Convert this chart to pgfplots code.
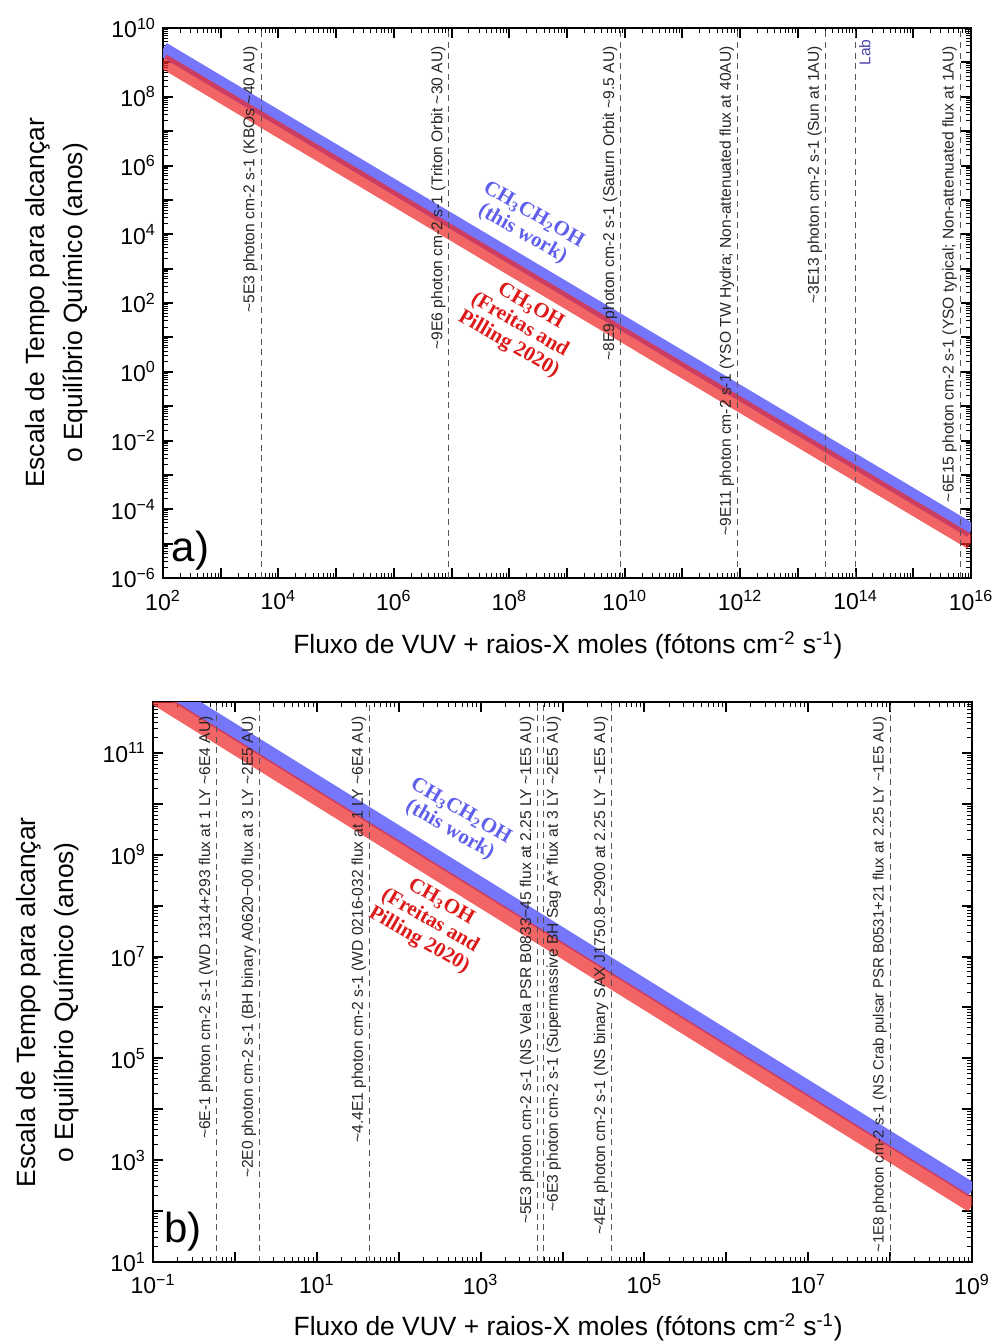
\documentclass[border=0pt]{standalone}
\usepackage{fontspec}
\setmainfont{Liberation Sans}
\newfontfamily\serifb{Liberation Serif}
\usepackage{pgfplots}
\pgfplotsset{compat=1.18}

\definecolor{bandblue}{RGB}{118,118,250}
\definecolor{bandred}{RGB}{238,40,40}
\definecolor{dashgray}{RGB}{85,85,85}
\definecolor{labblue}{RGB}{80,70,170}
\definecolor{txtblue}{RGB}{95,95,235}
\definecolor{txtred}{RGB}{222,25,25}
\newcommand{\tl}{\textasciitilde}
\newcommand{\tp}[1]{10\textsuperscript{#1}}
\newcommand{\lblfont}{\fontsize{13.2}{19}\selectfont}

\tikzset{
  bblue/.style={bandblue, line width=7.3pt},
  bred/.style={bandred, line width=7.3pt, opacity=0.72},
  vline/.style={dashgray, line width=0.55pt, dash pattern=on 3pt off 2.3pt},
  vlab/.style={rotate=90, font=\fontsize{7.8}{9}\selectfont, inner sep=1.5pt, text=black!85},
}
\pgfplotsset{
  axis line style={line width=1pt},
  major tick length=5pt, minor tick length=2.5pt,
  every major tick/.append style={line width=1pt, black},
  every minor tick/.append style={line width=0.5pt, black},
  tick align=inside,
  tick label style={font=\fontsize{11.5}{13}\selectfont},
  xticklabel style={yshift=-2.5pt},
}

\begin{document}
\begin{tikzpicture}
\useasboundingbox (0,0) rectangle (498pt,-671pt);

% ---------------- panel a ----------------
\begin{axis}[xmode=log, ymode=log, scale only axis, anchor=north west,
  at={(81.5pt,-14pt)}, width=404pt, height=275pt,
  xmin=1e2, xmax=1e16, ymin=1e-6, ymax=1e10,
  xtick={1e2,1e3,1e4,1e5,1e6,1e7,1e8,1e9,1e10,1e11,1e12,1e13,1e14,1e15,1e16},
  xticklabels={{\tp{2}},{},{\tp{4}},{},{\tp{6}},{},{\tp{8}},{},{\tp{10}},{},{\tp{12}},{},{\tp{14}},{},{\tp{16}}},
  ytick={1e-6,1e-5,1e-4,1e-3,1e-2,1e-1,1e0,1e1,1e2,1e3,1e4,1e5,1e6,1e7,1e8,1e9,1e10},
  yticklabels={{\tp{−6}},{},{\tp{−4}},{},{\tp{−2}},{},{\tp{0}},{},{\tp{2}},{},{\tp{4}},{},{\tp{6}},{},{\tp{8}},{},{\tp{10}}},
  xlabel={Fluxo de VUV + raios-X moles (fótons cm\textsuperscript{-2} s\textsuperscript{-1})},
  x label style={at={(axis description cs:0.501,-0.122)}, anchor=center, font=\lblfont},
  ylabel={Escala de Tempo para alcançar\\o Equilíbrio Químico (anos)},
  y label style={at={(axis description cs:-0.132,0.5)}, anchor=center, align=center, font=\lblfont},
]
\addplot[bblue] coordinates {(1e2,2.4e9) (1e16,2.4e-5)};
\addplot[bred] coordinates {(1e2,1.1e9) (1e16,1.1e-5)};

\addplot[vline] coordinates {(5e3,1e-6) (5e3,1e10)};
\addplot[vline] coordinates {(9e6,1e-6) (9e6,1e10)};
\addplot[vline] coordinates {(8.5e9,1e-6) (8.5e9,1e10)};
\addplot[vline] coordinates {(9e11,1e-6) (9e11,1e10)};
\addplot[vline] coordinates {(3e13,1e-6) (3e13,1e10)};
\addplot[vline] coordinates {(1e14,1e-6) (1e14,1e10)};
\addplot[vline] coordinates {(6.5e15,1e-6) (6.5e15,1e10)};

\node[yshift=-7.5pt, vlab, anchor=south east] at (axis cs:5e3,1e10) {\tl5E3 photon cm-2 s-1 (KBOs \tl40 AU)};
\node[yshift=-7.5pt, vlab, anchor=south east] at (axis cs:9e6,1e10) {\tl9E6 photon cm-2 s-1 (Triton Orbit \tl30 AU)};
\node[yshift=-7.5pt, vlab, anchor=south east] at (axis cs:8.5e9,1e10) {\tl8E9 photon cm-2 s-1 (Saturn Orbit \tl9.5 AU)};
\node[yshift=-7.5pt, vlab, anchor=south east] at (axis cs:9e11,1e10) {\tl9E11 photon cm-2 s-1 (YSO TW Hydra; Non-attenuated flux at 40AU)};
\node[yshift=-7.5pt, vlab, anchor=south east] at (axis cs:3e13,1e10) {\tl3E13 photon cm-2 s-1 (Sun at 1AU)};
\node[yshift=-4pt, vlab, anchor=north east, text=labblue] at (axis cs:1e14,1e10) {Lab};
\node[yshift=-7.5pt, vlab, anchor=south east] at (axis cs:6.5e15,1e10) {\tl6E15 photon cm-2 s-1 (YSO typical; Non-attenuated flux at 1AU)};

\node[rotate=-30, align=center, text=txtblue, font=\serifb\bfseries\fontsize{10.5}{11}\selectfont] at (axis cs:2.1e8,1.9e4) {CH\textsubscript{3}CH\textsubscript{2}OH\\(this work)};
\node[rotate=-30, align=center, text=txtred, font=\serifb\bfseries\fontsize{10.5}{11}\selectfont] at (axis cs:1.5e8,2.2e1) {CH\textsubscript{3}OH\\(Freitas and\\Pilling 2020)};
\node[font=\fontsize{21}{24}\selectfont] at (rel axis cs:0.034,0.05) {a)};
\end{axis}

% ---------------- panel b ----------------
\begin{axis}[xmode=log, ymode=log, scale only axis, anchor=north west,
  at={(76.5pt,-351pt)}, width=409.5pt, height=280pt,
  xmin=1e-1, xmax=1e9, ymin=1e1, ymax=1e12,
  xtick={1e-1,1e0,1e1,1e2,1e3,1e4,1e5,1e6,1e7,1e8,1e9},
  xticklabels={{\tp{−1}},{},{\tp{1}},{},{\tp{3}},{},{\tp{5}},{},{\tp{7}},{},{\tp{9}}},
  ytick={1e1,1e2,1e3,1e4,1e5,1e6,1e7,1e8,1e9,1e10,1e11,1e12},
  yticklabels={{\tp{1}},{},{\tp{3}},{},{\tp{5}},{},{\tp{7}},{},{\tp{9}},{},{\tp{11}},{}},
  xlabel={Fluxo de VUV + raios-X moles (fótons cm\textsuperscript{-2} s\textsuperscript{-1})},
  x label style={at={(axis description cs:0.507,-0.116)}, anchor=center, font=\lblfont},
  ylabel={Escala de Tempo para alcançar\\o Equilíbrio Químico (anos)},
  y label style={at={(axis description cs:-0.129,0.464)}, anchor=center, align=center, font=\lblfont},
]
\addplot[bblue] coordinates {(1e-1,2.6e12) (1e9,260)};
\addplot[bred] coordinates {(1e-1,1.3e12) (1e9,130)};

\addplot[vline] coordinates {(6e-1,1e1) (6e-1,1e12)};
\addplot[vline] coordinates {(2,1e1) (2,1e12)};
\addplot[vline] coordinates {(44,1e1) (44,1e12)};
\addplot[vline] coordinates {(5e3,1e1) (5e3,1e12)};
\addplot[vline] coordinates {(5.8e3,1e1) (5.8e3,1e12)};
\addplot[vline] coordinates {(4e4,1e1) (4e4,1e12)};
\addplot[vline] coordinates {(1e8,1e1) (1e8,1e12)};

\node[yshift=-5.5pt, vlab, anchor=south east] at (axis cs:6e-1,1e12) {\tl6E-1 photon cm-2 s-1 (WD 1314+293 flux at 1 LY \tl6E4 AU)};
\node[yshift=-5.5pt, vlab, anchor=south east] at (axis cs:2,1e12) {\tl2E0 photon cm-2 s-1 (BH binary A0620−00 flux at 3 LY \tl2E5 AU)};
\node[yshift=-5.5pt, vlab, anchor=south east] at (axis cs:44,1e12) {\tl4.4E1 photon cm-2 s-1 (WD 0216-032 flux at 1 LY \tl6E4 AU)};
\node[yshift=-5.5pt, vlab, anchor=south east] at (axis cs:5e3,1e12) {\tl5E3 photon cm-2 s-1 (NS Vela PSR B0833−45 flux at 2.25 LY \tl1E5 AU)};
\node[yshift=-5.5pt, vlab, anchor=north east] at (axis cs:5.8e3,1e12) {\tl6E3 photon cm-2 s-1 (Supermassive BH Sag A* flux at 3 LY \tl2E5 AU)};
\node[yshift=-5.5pt, vlab, anchor=south east] at (axis cs:4e4,1e12) {\tl4E4 photon cm-2 s-1 (NS binary SAX J1750.8−2900 at 2.25 LY \tl1E5 AU)};
\node[yshift=-5.5pt, vlab, anchor=south east, font=\fontsize{7.5}{9}\selectfont] at (axis cs:1e8,1e12) {\tl1E8 photon cm-2 s-1 (NS Crab pulsar PSR B0531+21 flux at 2.25 LY \tl1E5 AU)};

\node[rotate=-30, align=center, text=txtblue, font=\serifb\bfseries\fontsize{10.5}{11}\selectfont] at (axis cs:4.9e2,4.6e9) {CH\textsubscript{3}CH\textsubscript{2}OH\\(this work)};
\node[rotate=-30, align=center, text=txtred, font=\serifb\bfseries\fontsize{10.5}{11}\selectfont] at (axis cs:2.4e2,4.9e7) {CH\textsubscript{3}OH\\(Freitas and\\Pilling 2020)};
\node[font=\fontsize{21}{24}\selectfont] at (rel axis cs:0.037,0.055) {b)};
\end{axis}
\end{tikzpicture}
\end{document}
